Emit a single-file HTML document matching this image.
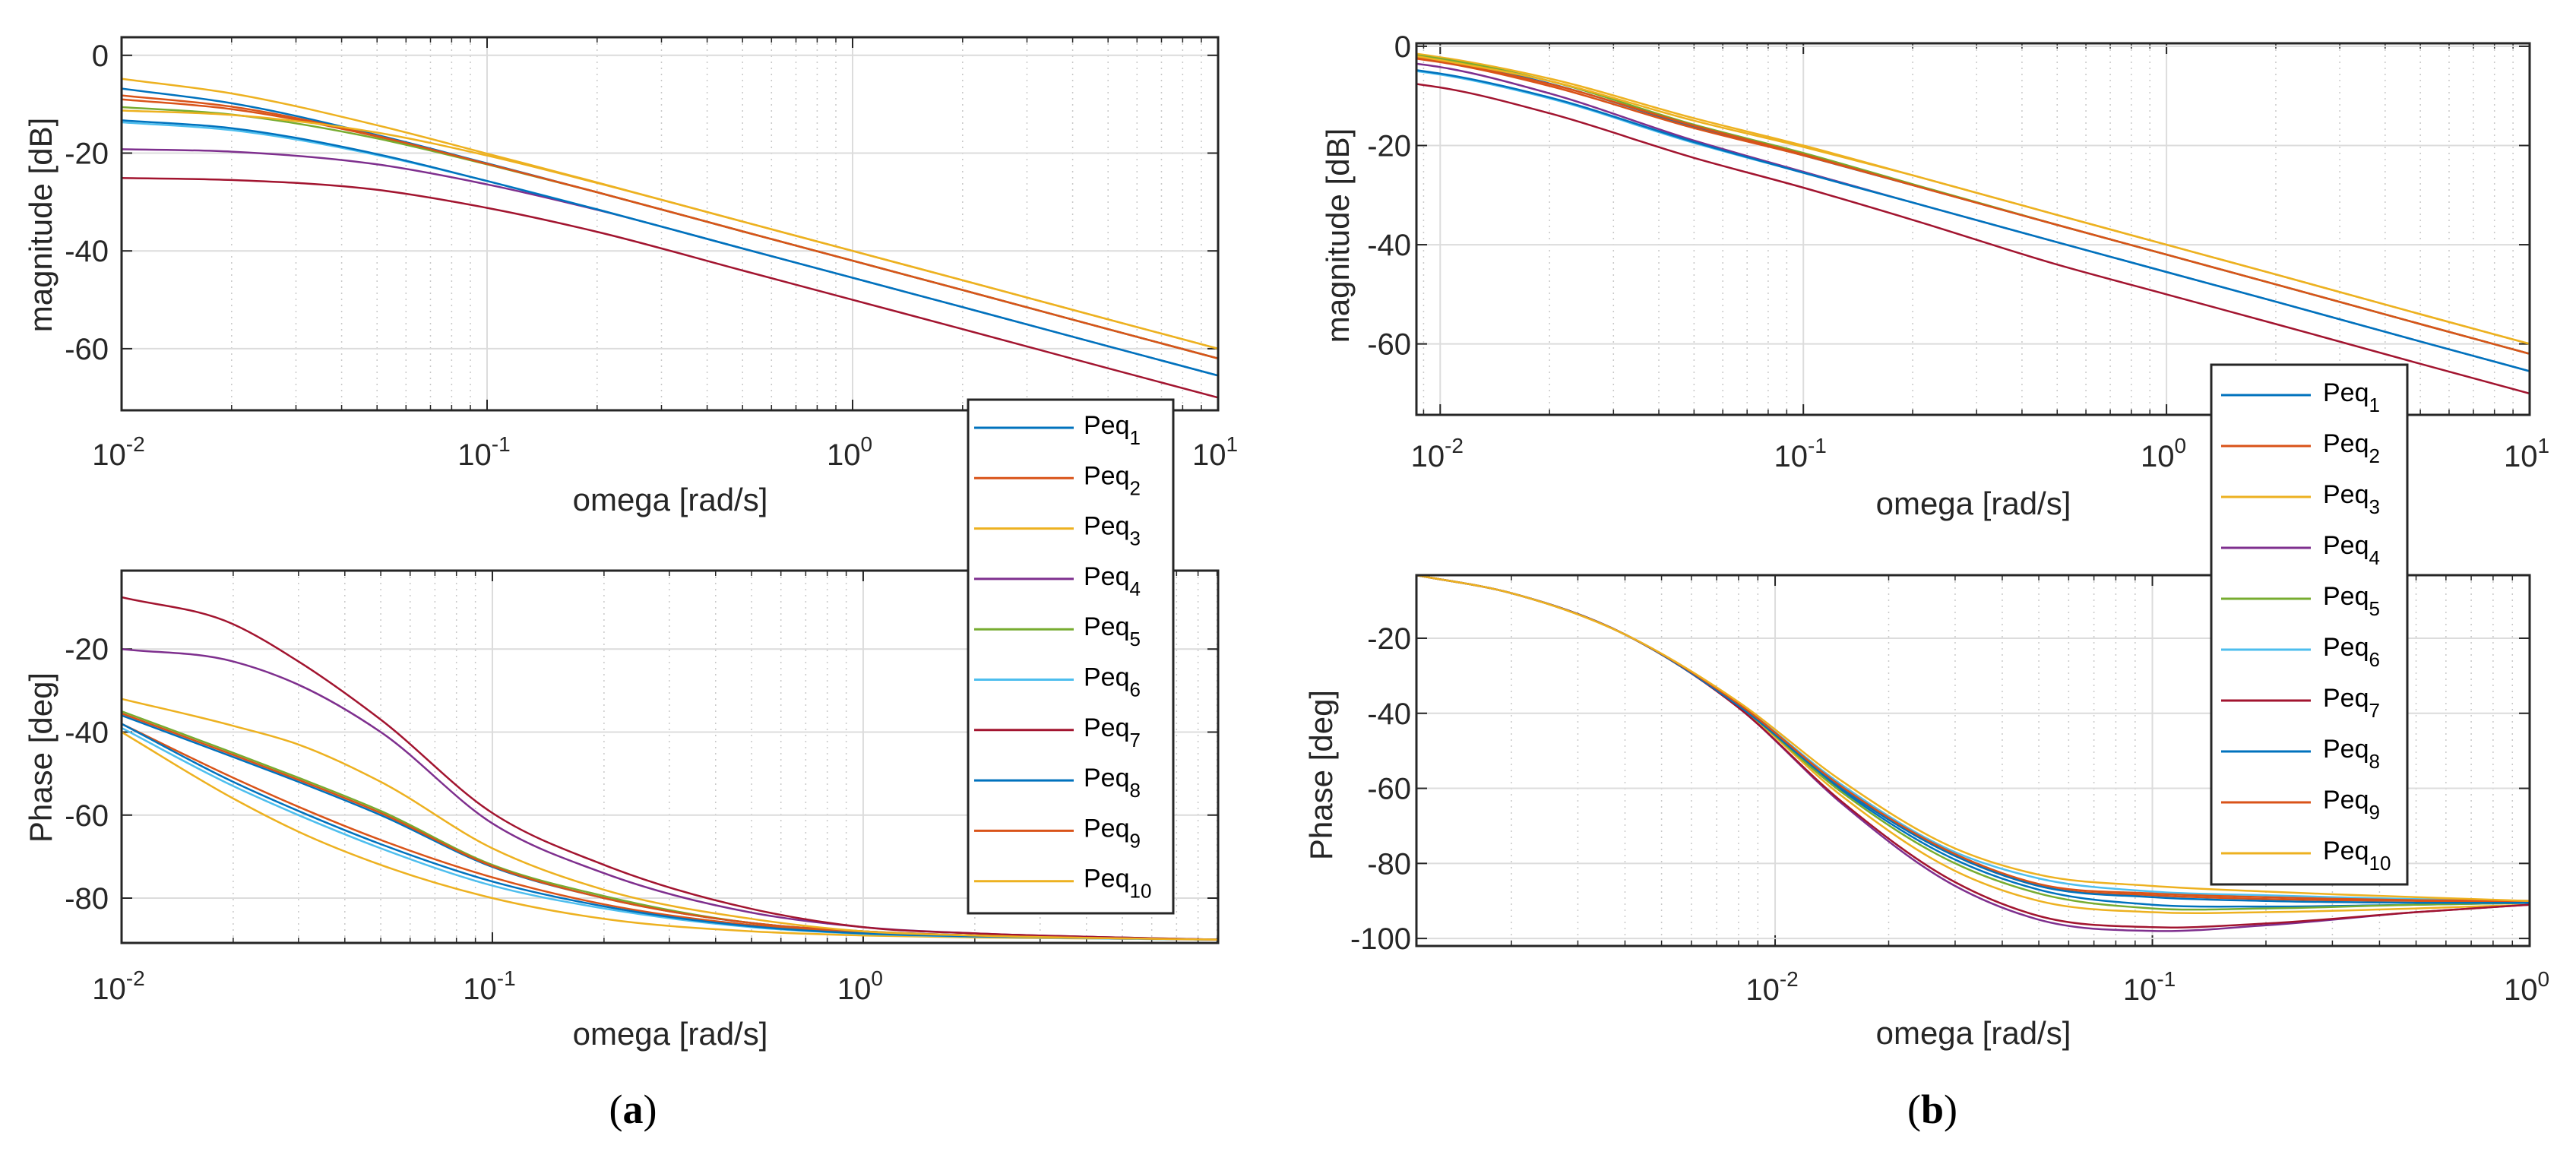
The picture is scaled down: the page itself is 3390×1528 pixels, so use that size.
<!DOCTYPE html>
<html><head><meta charset="utf-8"><style>
html,body{margin:0;padding:0;background:#fff;}
svg{display:block;font-family:"Liberation Sans",Arial,sans-serif;}
</style></head><body>
<svg id="fig" width="3390" height="1528" viewBox="0 0 3390 1528" xmlns="http://www.w3.org/2000/svg"></svg>
<script>
// ---------- DATA ----------
const seriesNames = ["1","2","3","4","5","6","7","8","9","10"];
const seriesColors = ["#0072BD","#D95319","#EDB120","#7E2F8E","#77AC30","#4DBEEE","#A2142F","#0072BD","#D95319","#EDB120"];

// Panel (a) magnitude
const aMagOmega = [0.01,0.02,0.05,0.1,0.2,0.5,1,2,5,10];
const aMag1 = [-6.8,-9.8,-16.3,-22.1,-28,-36,-42,-48,-56,-62];
const aMag2 = [-9,-11,-16.6,-22.2,-28,-36,-42,-48,-56,-62];
const aMag3 = [-4.8,-7.8,-14.3,-20.1,-26,-34,-40,-46,-54,-60];
const aMag4 = [-19.2,-19.7,-22.3,-26.4,-31.6,-39.5,-45.5,-51.5,-59.5,-65.5];
const aMag5 = [-10.6,-12.1,-17,-22.3,-28,-36,-42,-48,-56,-62];
const aMag6 = [-13.7,-15.3,-20.4,-25.7,-31.5,-39.5,-45.5,-51.5,-59.5,-65.5];
const aMag7 = [-25.1,-25.5,-27.5,-31.2,-36.1,-44,-50,-56,-64,-70];
const aMag8 = [-13.3,-14.9,-20.2,-25.7,-31.5,-39.5,-45.5,-51.5,-59.5,-65.5];
const aMag9 = [-8.2,-10.5,-16.5,-22.2,-28,-36,-42,-48,-56,-62];
const aMag10 = [-11.3,-12.2,-15.8,-20.5,-26.1,-34,-40,-46,-54,-60];

// Panel (a) phase
const aPhOmega = [0.01,0.02,0.03,0.05,0.1,0.2,0.5,1,2,5,9];
const aPh1 = [-36,-46,-52,-60,-72.5,-80,-86,-88,-89,-89.7,-90];
const aPh2 = [-38,-51,-58,-66,-75,-81.5,-86.5,-88.3,-89.2,-89.7,-90];
const aPh3 = [-40,-56,-64,-72,-80,-85,-88,-89,-89.5,-89.8,-90];
const aPh4 = [-20,-23,-28.6,-40,-62,-74,-83.5,-87,-88.5,-89.5,-90];
const aPh5 = [-35,-45,-51,-59,-72,-79.5,-86,-88,-89,-89.7,-90];
const aPh6 = [-39,-53,-60,-68,-77,-82.5,-87,-88.6,-89.3,-89.8,-90];
const aPh7 = [-7.5,-14,-23,-37,-59.5,-72,-82.6,-87,-88.5,-89.5,-90];
const aPh8 = [-38,-52,-59,-67,-76,-82,-86.8,-88.5,-89.2,-89.7,-90];
const aPh9 = [-35.5,-45.5,-51.5,-59.5,-72.3,-80,-86,-88,-89,-89.7,-90];
const aPh10 = [-32,-38.5,-43,-52,-68,-78,-85,-88,-89,-89.7,-90];

// Panel (b) magnitude
const bMagOmega = [0.0086,0.01,0.02,0.05,0.1,0.2,0.5,1,2,5,10];
const bMag1 = [-2,-2.7,-7.5,-16.2,-22,-28,-36,-42,-48,-56,-62];
const bMag2 = [-2.5,-3.2,-8,-16.5,-22,-28,-36,-42,-48,-56,-62];
const bMag3 = [-1.5,-2.2,-6.5,-14.5,-20,-26,-34,-40,-46,-54,-60];
const bMag4 = [-3.5,-4.2,-9.5,-19,-25.3,-31.5,-39.5,-45.5,-51.5,-59.5,-65.5];
const bMag5 = [-1.8,-2.5,-7,-15.8,-21.5,-27.8,-36,-42,-48,-56,-62];
const bMag6 = [-5,-5.7,-10.5,-19.5,-25.5,-31.5,-39.5,-45.5,-51.5,-59.5,-65.5];
const bMag7 = [-7.6,-8.3,-13.5,-22.5,-28.5,-35,-44,-50,-56,-64,-70];
const bMag8 = [-4.8,-5.5,-10.3,-19.3,-25.5,-31.5,-39.5,-45.5,-51.5,-59.5,-65.5];
const bMag9 = [-2.2,-3,-7.6,-16,-21.8,-28,-36,-42,-48,-56,-62];
const bMag10 = [-2,-2.8,-7,-15,-20.3,-26,-34,-40,-46,-54,-60];

// Panel (b) phase
const bPhOmega = [0.00112,0.002,0.004,0.008,0.015,0.03,0.05,0.1,0.2,0.5,1];
const bPh1 = [-3.2,-8,-19,-38,-60.5,-79,-87,-91,-91.5,-91,-90.5];
const bPh2 = [-3.2,-8,-19,-38,-60,-78,-86,-88.5,-89.5,-90,-90];
const bPh3 = [-3.2,-8,-19,-38,-62,-82,-90,-93,-93,-92,-91];
const bPh4 = [-3.2,-8,-19,-38.5,-64,-86,-95,-98,-96.5,-93,-91];
const bPh5 = [-3.2,-8,-19,-38,-61,-80,-88,-92,-92,-91,-90.5];
const bPh6 = [-3.2,-8,-19,-37.5,-59,-77,-84,-87.5,-88.5,-89.5,-90];
const bPh7 = [-3.2,-8,-19,-38.5,-63.5,-85,-94,-97,-96,-93,-91];
const bPh8 = [-3.2,-8,-19,-38,-60,-78,-86,-89,-90,-90.5,-90.5];
const bPh9 = [-3.2,-8,-19,-37.5,-59.5,-77.5,-85.5,-88,-89,-89.8,-90];
const bPh10 = [-3.2,-8,-19,-37,-58,-76,-83,-86,-87.5,-89,-90];

// Tick labels
const aMagYTicks = [0,-20,-40,-60];
const aPhYTicks = [-20,-40,-60,-80];
const bMagYTicks = [0,-20,-40,-60];
const bPhYTicks = [-20,-40,-60,-80,-100];
const aMagXTicks = [-2,-1,0,1];
const aPhXTicks = [-2,-1,0];
const bMagXTicks = [-2,-1,0,1];
const bPhXTicks = [-2,-1,0];

// ---------- DRAWING ----------
const NS = "http://www.w3.org/2000/svg";
const svg = document.getElementById("fig");
function mk(tag, attrs, parent){
  const e = document.createElementNS(NS, tag);
  for (const k in attrs) e.setAttribute(k, attrs[k]);
  (parent||svg).appendChild(e);
  return e;
}
// non-uniform Hermite spline (x monotone)
function smoothPath(pts){
  const n = pts.length;
  const m = [];
  for (let i=0;i<n;i++){
    if (i===0) m.push((pts[1][1]-pts[0][1])/(pts[1][0]-pts[0][0]));
    else if (i===n-1) m.push((pts[n-1][1]-pts[n-2][1])/(pts[n-1][0]-pts[n-2][0]));
    else {
      const s0=(pts[i][1]-pts[i-1][1])/(pts[i][0]-pts[i-1][0]);
      const s1=(pts[i+1][1]-pts[i][1])/(pts[i+1][0]-pts[i][0]);
      const h0=pts[i][0]-pts[i-1][0], h1=pts[i+1][0]-pts[i][0];
      m.push((s0*h1+s1*h0)/(h0+h1));
    }
  }
  let d = "M" + pts[0][0].toFixed(1) + "," + pts[0][1].toFixed(1);
  for (let i=0;i<n-1;i++){
    const h = pts[i+1][0]-pts[i][0];
    const c1x=pts[i][0]+h/3, c1y=pts[i][1]+m[i]*h/3;
    const c2x=pts[i+1][0]-h/3, c2y=pts[i+1][1]-m[i+1]*h/3;
    d += " C"+c1x.toFixed(1)+","+c1y.toFixed(1)+" "+c2x.toFixed(1)+","+c2y.toFixed(1)+" "+pts[i+1][0].toFixed(1)+","+pts[i+1][1].toFixed(1);
  }
  return d;
}

function drawAxes(cfg){
  const g = mk("g", {});
  
  
  const L=cfg.x0, R=cfg.x1, T=cfg.y0, B=cfg.y1;
  const lx0=Math.log10(cfg.xmin), lx1=Math.log10(cfg.xmax);
  const sx = v => L + (Math.log10(v)-lx0)/(lx1-lx0)*(R-L);
  const sy = v => T + (cfg.ymax-v)/(cfg.ymax-cfg.ymin)*(B-T);
  for (let dec=Math.floor(lx0); dec<=Math.ceil(lx1); dec++){
    for (let m=2;m<=9;m++){
      const v=m*Math.pow(10,dec);
      if (v<cfg.xmin||v>cfg.xmax) continue;
      const x=sx(v);
      const ln = mk("line",{x1:x,y1:T,x2:x,y2:B,stroke:"#c8c8c8","stroke-width":1.5,"stroke-dasharray":"2,6"},g);
      
      
      mk("line",{x1:x,y1:B,x2:x,y2:B-7,stroke:"#262626","stroke-width":1.5},g);
      mk("line",{x1:x,y1:T,x2:x,y2:T+7,stroke:"#262626","stroke-width":1.5},g);
    }
  }
  cfg.xticks.forEach(e=>{
    const x=sx(Math.pow(10,e));
    if (x<L-1||x>R+1) return;
    const ln = mk("line",{x1:x,y1:T,x2:x,y2:B,stroke:"#dcdcdc","stroke-width":2},g);
    
    
    mk("line",{x1:x,y1:B,x2:x,y2:B-14,stroke:"#262626","stroke-width":2},g);
    mk("line",{x1:x,y1:T,x2:x,y2:T+14,stroke:"#262626","stroke-width":2},g);
    const t = mk("text",{x:x-4,y:cfg.xtickY,"text-anchor":"middle","font-size":40,fill:"#262626"},g);
    
    
    t.textContent="10";
    const s = mk("tspan",{dy:-18,"font-size":28},t);
    s.textContent=String(e);
  });
  cfg.yticks.forEach(v=>{
    const y=sy(v);
    const ln = mk("line",{x1:L,y1:y,x2:R,y2:y,stroke:"#dcdcdc","stroke-width":2},g);
    
    
    mk("line",{x1:L,y1:y,x2:L+14,y2:y,stroke:"#262626","stroke-width":2},g);
    mk("line",{x1:R,y1:y,x2:R-14,y2:y,stroke:"#262626","stroke-width":2},g);
    const t = mk("text",{x:cfg.ytickX,y:y+14,"text-anchor":"end","font-size":40,fill:"#262626"},g);
    
    
    t.textContent=String(v);
  });
  const clipId = cfg.name+"-clip";
  const cp = mk("clipPath",{id:clipId},g);
  mk("rect",{x:L,y:T,width:R-L,height:B-T},cp);
  const sg = mk("g",{"clip-path":"url(#"+clipId+")"},g);
  cfg.series.forEach((arr,i)=>{
    const pts = arr.map((v,j)=>[sx(cfg.omega[j]), sy(v)]);
    const p = mk("path",{d:smoothPath(pts),fill:"none",stroke:seriesColors[i],"stroke-width":2.5},sg);
    
    
  });
  const box = mk("rect",{x:L,y:T,width:R-L,height:B-T,fill:"none",stroke:"#262626","stroke-width":3},g);
  
  
  const xl = mk("text",{x:cfg.xlabelX,y:cfg.xlabelY,"text-anchor":"middle","font-size":42,fill:"#262626"},g);
  
  
  xl.textContent="omega [rad/s]";
  const yl = mk("text",{x:0,y:0,"text-anchor":"middle","font-size":42,fill:"#262626",transform:"translate("+cfg.ylabelX+","+cfg.ylabelY+") rotate(-90)"},g);
  
  
  yl.textContent=cfg.ylabel;
}

function drawLegend(x,y,w,h,first,step,lineX0,lineX1,textX,name){
  const g = mk("g",{});
  
  
  mk("rect",{x:x,y:y,width:w,height:h,fill:"#fff",stroke:"#262626","stroke-width":3},g);
  seriesNames.forEach((n,i)=>{
    const yy = first + i*step;
    const eg = mk("g",{},g);
    
    
    mk("line",{x1:lineX0,y1:yy,x2:lineX1,y2:yy,stroke:seriesColors[i],"stroke-width":3},eg);
    const t = mk("text",{x:textX,y:yy+8,"font-size":34,fill:"#000"},eg);
    t.textContent="Peq";
    const s = mk("tspan",{dy:14,"font-size":26},t);
    s.textContent=n;
  });
}

drawAxes({name:"a-magnitude-axes",x0:160,x1:1603,y0:49,y1:540,xmin:0.01,xmax:10,ymin:-72.6,ymax:3.7,
  xticks:aMagXTicks,yticks:aMagYTicks,xtickY:612,ytickX:143,omega:aMagOmega,
  series:[aMag1,aMag2,aMag3,aMag4,aMag5,aMag6,aMag7,aMag8,aMag9,aMag10],
  xlabelX:882,xlabelY:672,ylabelX:68,ylabelY:296,ylabel:"magnitude [dB]"});
drawAxes({name:"a-phase-axes",x0:160,x1:1603,y0:751,y1:1241,xmin:0.01,xmax:9.06,ymin:-90.8,ymax:-1.1,
  xticks:aPhXTicks,yticks:aPhYTicks,xtickY:1315,ytickX:143,omega:aPhOmega,
  series:[aPh1,aPh2,aPh3,aPh4,aPh5,aPh6,aPh7,aPh8,aPh9,aPh10],
  xlabelX:882,xlabelY:1375,ylabelX:68,ylabelY:997,ylabel:"Phase [deg]"});
drawAxes({name:"b-magnitude-axes",x0:1864,x1:3329,y0:57,y1:546,xmin:0.0086,xmax:10,ymin:-74.3,ymax:0.6,
  xticks:bMagXTicks,yticks:bMagYTicks,xtickY:614,ytickX:1857,omega:bMagOmega,
  series:[bMag1,bMag2,bMag3,bMag4,bMag5,bMag6,bMag7,bMag8,bMag9,bMag10],
  xlabelX:2597,xlabelY:677,ylabelX:1775,ylabelY:310,ylabel:"magnitude [dB]"});
drawAxes({name:"b-phase-axes",x0:1864,x1:3329,y0:757,y1:1245,xmin:0.00112,xmax:1,ymin:-102,ymax:-3.2,
  xticks:bPhXTicks,yticks:bPhYTicks,xtickY:1316,ytickX:1857,omega:bPhOmega,
  series:[bPh1,bPh2,bPh3,bPh4,bPh5,bPh6,bPh7,bPh8,bPh9,bPh10],
  xlabelX:2597,xlabelY:1374,ylabelX:1753,ylabelY:1020,ylabel:"Phase [deg]"});

drawLegend(1274,526,270,676,563,66.3,1282,1413,1426,"legend-a");
drawLegend(2910,480,258,684,520,67,2923,3041,3057,"legend-b");

const ca = mk("text",{x:833,y:1478,"text-anchor":"middle","font-size":54,"font-family":"Liberation Serif, serif",fill:"#000"});


ca.innerHTML = '(<tspan font-weight="bold">a</tspan>)';
const cb = mk("text",{x:2543,y:1478,"text-anchor":"middle","font-size":54,"font-family":"Liberation Serif, serif",fill:"#000"});


cb.innerHTML = '(<tspan font-weight="bold">b</tspan>)';
</script>
</body></html>
